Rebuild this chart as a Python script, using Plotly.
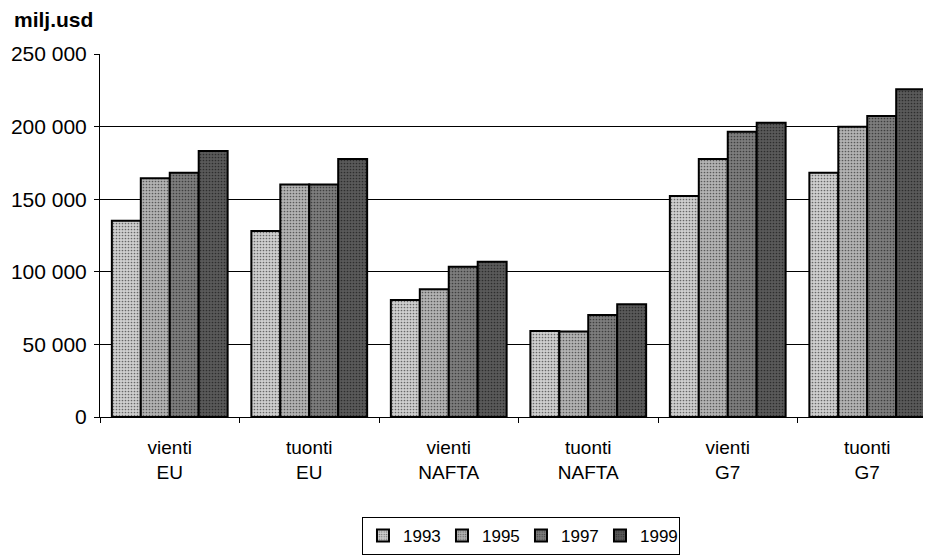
import plotly.graph_objects as go

categories = ["vienti<br>EU", "tuonti<br>EU", "vienti<br>NAFTA", "tuonti<br>NAFTA", "vienti<br>G7", "tuonti<br>G7"]
years = ["1993", "1995", "1997", "1999"]
v1993 = [135200, 128100, 80600, 59200, 152200, 168300]
v1995 = [164400, 160200, 87900, 58800, 177700, 199900]
v1997 = [168300, 160200, 103500, 70200, 196500, 207300]
v1999 = [183200, 177700, 107000, 77600, 202700, 225700]
series = [v1993, v1995, v1997, v1999]
yticks = [0, 50000, 100000, 150000, 200000, 250000]
ytick_labels = ["0", "50 000", "100 000", "150 000", "200 000", "250 000"]

colors = ["#cfcfcf", "#b3b3b3", "#7d7d7d", "#5a5a5a"]

fig = go.Figure()
for name, vals, c in zip(years, series, colors):
    fig.add_trace(go.Bar(
        x=categories, y=vals, name=name,
        marker=dict(color=c, line=dict(color="black", width=2),
                    pattern=dict(shape=".", size=3, solidity=0.25, fgcolor="#000000", bgcolor=c, fillmode="overlay")),
    ))

font = "Liberation Sans, Arial, sans-serif"
# The page body adds an 8px offset, so the figure is sized/positioned to compensate.
fig.update_layout(
    width=923, height=548,
    margin=dict(l=92, r=0, t=46, b=139, autoexpand=False),
    paper_bgcolor="white", plot_bgcolor="white",
    barmode="group", bargap=0.17, bargroupgap=0,
    font=dict(family=font, size=17, color="black"),
    showlegend=True,
    legend=dict(orientation="h", x=0.5066, xanchor="center", y=-0.2755, yanchor="top",
                bordercolor="black", borderwidth=1, font=dict(size=17),
                itemwidth=30, entrywidth=34, entrywidthmode="pixels", tracegroupgap=0),
    xaxis=dict(range=[-0.5, 5.457], showline=True, linecolor="black", linewidth=1, ticks="outside",
               tickson="boundaries", ticklen=5, tickcolor="black", automargin=False,
               tickfont=dict(size=19), ticklabelstandoff=13, showgrid=False),
    yaxis=dict(range=[0, 250000], tickvals=yticks, ticktext=ytick_labels,
               showline=True, linecolor="black", linewidth=1, automargin=False,
               ticks="outside", ticklen=5, tickcolor="black",
               showgrid=True, gridcolor="black", gridwidth=1,
               tickfont=dict(size=21), ticklabelstandoff=3, zeroline=False),
)
fig.add_annotation(text="<b>milj.usd</b>", xref="paper", yref="paper",
                   x=-0.106, y=1.0937, xanchor="left", yanchor="middle",
                   showarrow=False, font=dict(size=21))
fig.write_html("out.html")
